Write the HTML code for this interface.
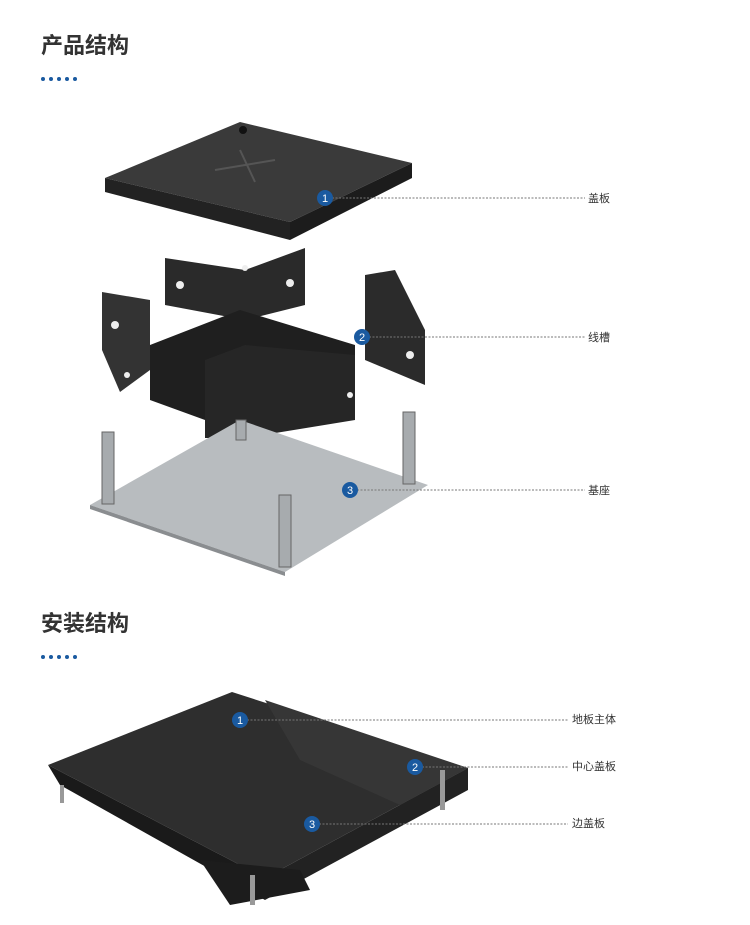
<!DOCTYPE html>
<html><head><meta charset="utf-8"><style>
body{margin:0;background:#fff;width:750px;height:925px;overflow:hidden;font-family:"Liberation Sans","Noto Sans CJK SC",sans-serif}
svg{position:absolute;left:0;top:0}
</style></head><body>
<svg width="750" height="925" viewBox="0 0 750 925" xmlns="http://www.w3.org/2000/svg" font-family="Liberation Sans, Noto Sans CJK SC, sans-serif">
<text x="41" y="53" font-size="22" font-weight="bold" fill="#333">产品结构</text>
<g fill="#1a5aa0"><circle cx="43" cy="79" r="2"/><circle cx="51" cy="79" r="2"/><circle cx="59" cy="79" r="2"/><circle cx="67" cy="79" r="2"/><circle cx="75" cy="79" r="2"/></g>
<!-- cover -->
<polygon points="105,178 240,122 412,163 290,222" fill="#3a3a3a"/>
<polygon points="105,178 290,222 290,240 105,192" fill="#222"/>
<polygon points="290,222 412,163 412,178 290,240" fill="#1c1c1c"/>
<path d="M215,170 L275,160 M240,150 L255,182" stroke="#555" stroke-width="2"/>
<circle cx="243" cy="130" r="4" fill="#111"/>
<!-- trough -->
<polygon points="165,258 245,270 305,248 305,305 245,320 165,305" fill="#2a2a2a"/>
<polygon points="102,292 150,300 150,370 120,392 102,350" fill="#333"/>
<polygon points="365,275 395,270 425,330 425,385 365,360" fill="#2b2b2b"/>
<polygon points="150,345 240,310 355,345 355,395 245,440 205,420 150,400" fill="#1f1f1f"/>
<polygon points="205,360 245,345 355,355 355,420 245,438 205,438" fill="#262626"/>
<g fill="#eee"><circle cx="180" cy="285" r="4"/><circle cx="290" cy="283" r="4"/><circle cx="115" cy="325" r="4"/><circle cx="410" cy="355" r="4"/><circle cx="245" cy="268" r="3"/><circle cx="350" cy="395" r="3"/><circle cx="127" cy="375" r="3"/></g>
<!-- base -->
<polygon points="90,505 240,420 428,485 285,572" fill="#b8bcbf"/>
<polygon points="90,505 285,572 285,576 90,509" fill="#8a8d90"/>
<g fill="#a7abae" stroke="#666" stroke-width="1">
<rect x="102" y="432" width="12" height="72"/><rect x="403" y="412" width="12" height="72"/><rect x="279" y="495" width="12" height="72"/><rect x="236" y="420" width="10" height="20"/></g>
<!-- callouts -->
<g stroke="#777" stroke-width="1" stroke-dasharray="2,1.5">
<line x1="332" y1="198" x2="585" y2="198"/><line x1="369" y1="337" x2="585" y2="337"/><line x1="357" y1="490" x2="585" y2="490"/></g>
<g fill="#1a5aa0"><circle cx="325" cy="198" r="8"/><circle cx="362" cy="337" r="8"/><circle cx="350" cy="490" r="8"/></g>
<g fill="#fff" font-size="11" text-anchor="middle"><text x="325" y="202">1</text><text x="362" y="341">2</text><text x="350" y="494">3</text></g>
<g fill="#333" font-size="11"><text x="588" y="202">盖板</text><text x="588" y="341">线槽</text><text x="588" y="494">基座</text></g>

<text x="41" y="631" font-size="22" font-weight="bold" fill="#333">安装结构</text>
<g fill="#1a5aa0"><circle cx="43" cy="657" r="2"/><circle cx="51" cy="657" r="2"/><circle cx="59" cy="657" r="2"/><circle cx="67" cy="657" r="2"/><circle cx="75" cy="657" r="2"/></g>
<polygon points="48,765 232,692 468,768 265,878" fill="#2e2e2e"/>
<polygon points="48,765 265,878 265,900 60,785" fill="#1a1a1a"/>
<polygon points="265,878 468,768 468,790 265,900" fill="#222"/>
<polygon points="265,700 468,768 400,805 300,760" fill="#363636"/>
<polygon points="200,860 300,870 310,890 230,905" fill="#1c1c1c"/>
<g fill="#999"><rect x="250" y="875" width="5" height="30"/><rect x="440" y="770" width="5" height="40"/><rect x="60" y="785" width="4" height="18"/></g>
<g stroke="#777" stroke-width="1" stroke-dasharray="2,1.5">
<line x1="247" y1="720" x2="568" y2="720"/><line x1="422" y1="767" x2="568" y2="767"/><line x1="319" y1="824" x2="568" y2="824"/></g>
<g fill="#1a5aa0"><circle cx="240" cy="720" r="8"/><circle cx="415" cy="767" r="8"/><circle cx="312" cy="824" r="8"/></g>
<g fill="#fff" font-size="11" text-anchor="middle"><text x="240" y="724">1</text><text x="415" y="771">2</text><text x="312" y="828">3</text></g>
<g fill="#333" font-size="11"><text x="572" y="723">地板主体</text><text x="572" y="770">中心盖板</text><text x="572" y="827">边盖板</text></g>
</svg>
</body></html>
